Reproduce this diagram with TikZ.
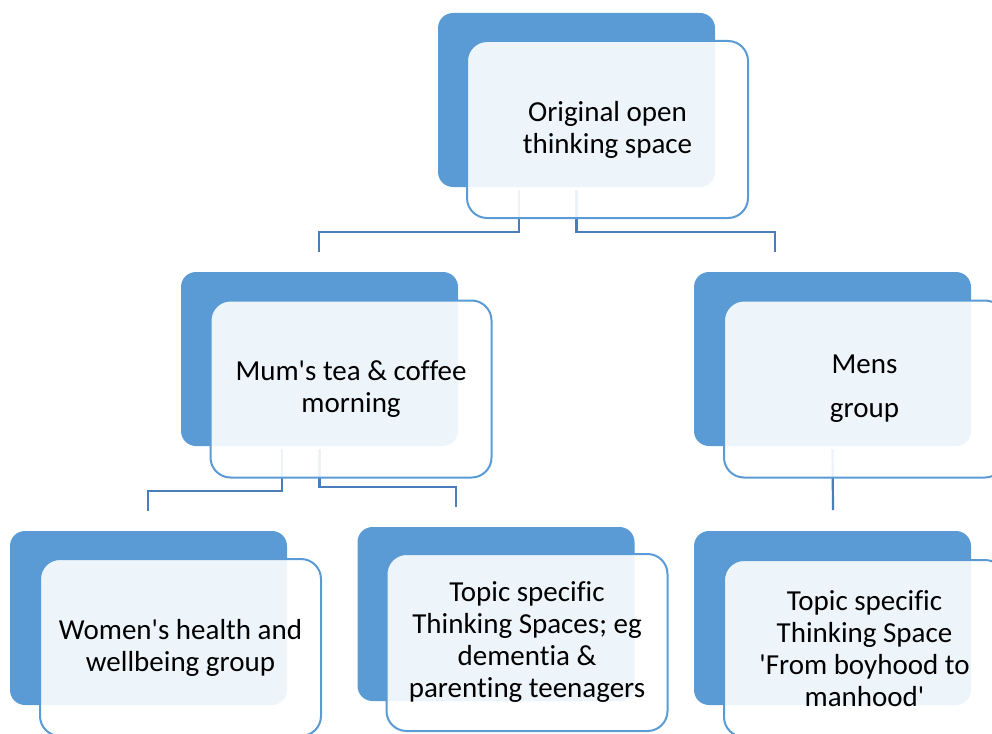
\documentclass[tikz,border=0pt]{standalone}
\usepackage{fontspec}
\setmainfont{Carlito}[Ligatures={TeXOff,NoCommon}]
\usepackage{xcolor}
\usetikzlibrary{positioning,calc,backgrounds}

\definecolor{boxblue}{HTML}{5B9BD5}
\definecolor{linkblue}{HTML}{4A7EBB}

\tikzset{
	backbox/.style={fill=boxblue, rounded corners=15pt, inner sep=0pt,
		minimum width=277pt, minimum height=174pt},
	frontbox/.style={draw=boxblue, line width=2pt, fill=white, fill opacity=0.9,
		text opacity=1, rounded corners=20pt, inner sep=0pt, align=center,
		minimum width=281pt, minimum height=177pt,
		font=\fontsize{29}{32}\selectfont},
	link/.style={draw=linkblue, line width=2.2pt}
}

\begin{document}
\begin{tikzpicture}[x=1pt,y=-1pt]
	\path[use as bounding box] (0,0) rectangle (992,733);
	\clip (0,0) rectangle (992,733);
	
	% Back boxes
	\node[backbox] (orig-b)  at (576.5,100) {};
	\node[backbox] (mum-b)   at (319.5,359) {};
	\node[backbox] (mens-b)  at (832.5,359) {};
	\node[backbox] (women-b) at (148.5,618) {};
	\node[backbox] (topic-b) at (496,614) {};
	\node[backbox] (boy-b)   at (832.5,618) {};
	
	% Front boxes with text
	\node[frontbox] (orig)  at (607.5,129.5) {Original open\\thinking space};
	\node[frontbox] (mum)   at (351,389)     {Mum's tea \& coffee\\morning};
	\node[frontbox] (mens)  at (864.5,389)   {Mens\\[12pt]group};
	\node[frontbox] (women) at (180.5,647.5) {Women's health and\\wellbeing group};
	\node[frontbox] (topic) at (527,642.5)   {Topic specific\\Thinking Spaces; eg\\dementia \&\\parenting teenagers};
	\node[frontbox] (boy)   at (864.5,648.5) {Topic specific\\Thinking Space\\'From boyhood to\\manhood'};
	
	% Free ends of the links
	\coordinate (origL) at (319,252);
	\coordinate (origR) at (775,252);
	\coordinate (mumL)  at (148,511);
	\coordinate (mumR)  at (456,507);
	\coordinate (mensD) at (833,510);
	
	% Links
	\begin{scope}[on background layer]
		\draw[link] ($(orig-b.south)+(-57.5,3)$) -- ++(0,42) -| (origL);
		\draw[link] ($(orig-b.south)+(0,3)$) -- ++(0,42) -| (origR);
		\draw[link] ($(mum-b.south)+(-37.5,3)$) -- ++(0,42) -| (mumL);
		\draw[link] ($(mum-b.south)+(0,3)$) -- ++(0,38) -| (mumR);
		\draw[link] ($(mens-b.south)+(0,3)$) -- (mensD);
	\end{scope}
\end{tikzpicture}
\end{document}
